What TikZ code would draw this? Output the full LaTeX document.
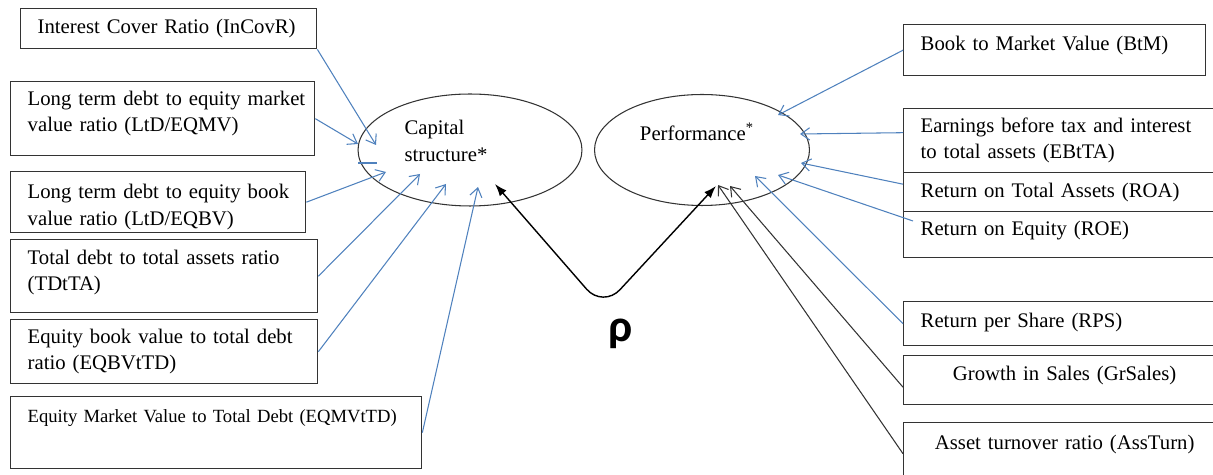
\documentclass[tikz,border=0pt]{standalone}
\usepackage{fontspec}
\setmainfont{Liberation Serif}
\newfontfamily\rhofont{Carlito}
\usetikzlibrary{shapes.geometric,arrows.meta,calc}
\definecolor{linkblue}{HTML}{4F81BD}
\definecolor{framegray}{HTML}{333333}

\begin{document}
\begin{tikzpicture}[x=0.02cm, y=-0.02cm,
    font=\fontsize{11.8}{15}\selectfont,
    metric/.style={draw=framegray, line width=0.8pt, anchor=north west,
        align=left, inner xsep=0.04cm, inner ysep=0pt,
        execute at begin node={\leftskip=0.3cm\relax}},
    metricmid/.style={metric, align=center,
        execute at begin node={\leftskip=0pt plus 1fil\rightskip=0pt plus 1fil\parfillskip=0pt\relax}},
    latent/.style={draw=framegray, line width=0.6pt, ellipse, inner sep=0pt},
    link/.style={linkblue, line width=0.6pt, ->, >={Straight Barb[length=5pt,width=7pt]}},
    blacklink/.style={framegray, line width=0.6pt, ->, >={Straight Barb[length=5pt,width=7pt]}}]

    % 画布范围
    \clip (0,0) rectangle (1213,475);

    % 潜变量椭圆
    \node[latent, minimum width=4.48cm, minimum height=2.24cm,
        label={[align=left, xshift=-0.48cm, yshift=0.18cm]center:Capital\\structure*}] (cap) at (470,150) {};
    \node[latent, minimum width=4.3cm, minimum height=2.22cm,
        label={[xshift=-0.1cm, yshift=0.36cm]center:Performance\textsuperscript{*}}] (perf) at (702,150) {};

    % 左侧指标
    \node[metric, text width=5.84cm, minimum height=0.8cm] (incov) at (20,8) {Interest Cover Ratio (InCovR)};
    \node[metric, text width=6.0cm, minimum height=1.48cm, text depth=0.82cm] (ltdmv) at (10,81) {Long term debt to equity market\\value ratio (LtD/EQMV)};
    \node[metric, text width=5.82cm, minimum height=1.22cm, text depth=0.42cm] (ltdbv) at (10,171) {Long term debt to equity book\\value ratio (LtD/EQBV)};
    \node[metric, text width=6.06cm, minimum height=1.46cm, text depth=0.76cm] (tdta) at (10,239) {Total debt to total assets ratio\\(TDtTA)};
    \node[metric, text width=6.06cm, minimum height=1.28cm] (eqbv) at (10,319) {Equity book value to total debt\\ratio (EQBVtTD)};
    \node[metric, text width=8.14cm, minimum height=1.44cm, text depth=0.68cm,
        font=\fontsize{10.6}{13}\selectfont] (eqmv) at (10,396) {Equity Market Value to Total Debt (EQMVtTD)};

    % 右侧指标
    \node[metric, text width=5.96cm, minimum height=1.02cm, text depth=0.26cm] (btm) at (903,24) {Book to Market Value (BtM)};
    \node[metric, text width=6.36cm, minimum height=1.28cm] (ebt) at (903,108) {Earnings before tax and interest\\to total assets (EBtTA)};
    \node[metric, text width=6.36cm, minimum height=0.78cm] (roa) at (903,172) {Return on Total Assets (ROA)};
    \node[metric, text width=6.36cm, minimum height=0.92cm, text depth=0.24cm] (roe) at (903,211) {Return on Equity (ROE)};
    \node[metric, text width=6.36cm, minimum height=0.88cm, text depth=0.12cm] (rps) at (903,301) {Return per Share (RPS)};
    \node[metricmid, text width=6.36cm, minimum height=0.98cm, text depth=0.26cm] (grs) at (903,355) {Growth in Sales (GrSales)};
    \node[metricmid, text width=6.36cm, minimum height=1.4cm, text depth=0.6cm] (ast) at (903,422) {Asset turnover ratio (AssTurn)};

    % 箭头落点
    \coordinate (c1) at (376,145);
    \coordinate (c2) at (358,144);
    \coordinate (c3) at (386,172);
    \coordinate (c4) at (420,174);
    \coordinate (c5) at (446,184);
    \coordinate (c6) at (478,187);
    \coordinate (p1) at (778,115);
    \coordinate (p2) at (800,134);
    \coordinate (p3) at (801,163);
    \coordinate (p4) at (778,175);
    \coordinate (p5) at (755,176);
    \coordinate (p6) at (730,186);
    \coordinate (p7) at (718,185);
    \coordinate (capFoot) at (495,184);
    \coordinate (perfFoot) at (716,186);

    % 指向 Capital structure
    \foreach \src/\dst in {incov.south east/c1, ltdmv.east/c2, ltdbv.east/c3,
                           tdta.east/c4, eqbv.east/c5, eqmv.east/c6}
        \draw[link] (\src) -- (\dst);
    \draw[linkblue, line width=0.6pt] (358,163) -- (377,163);

    % 指向 Performance
    \draw[link] (btm.west) -- (p1);
    \draw[link] ($(ebt.west)+(0,-8)$) -- (p2);
    \draw[link] ($(roa.west)+(0,-8)$) -- (p3);
    \draw[link] ($(roe.north west)+(10,10)$) -- (p4);
    \draw[link] (rps.west) -- (p5);
    \draw[blacklink] ($(grs.west)+(0,7)$) -- (p6);
    \draw[blacklink] ($(ast.west)+(0,-4)$) -- (p7);

    % 相关系数
    \draw[black, line width=0.8pt, rounded corners=0.5cm,
        {Latex[length=7pt,width=5pt]}-{Latex[length=7pt,width=5pt]}]
        (capFoot) -- (603,308) -- (perfFoot);
    \node[font=\rhofont\bfseries\fontsize{26}{26}\selectfont] (rho) at (621,334) {ρ};
\end{tikzpicture}
\end{document}
